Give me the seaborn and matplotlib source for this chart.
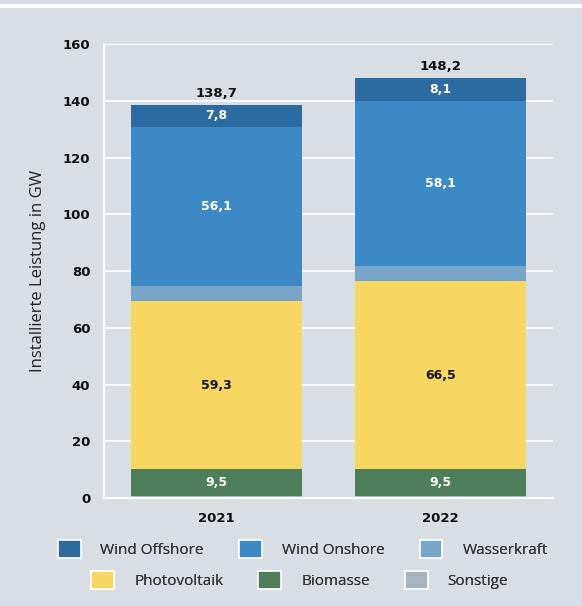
import numpy as np
import pandas as pd
import matplotlib
matplotlib.use("Agg")
import matplotlib.pyplot as plt
from matplotlib.patches import Patch, Rectangle
import seaborn as sns

# data (GW)
years = ["2021", "2022"]
sonstige = [0.6, 0.6]
biomasse = [9.5, 9.5]
photovoltaik = [59.3, 66.5]
wasserkraft = [5.4, 5.4]
wind_onshore = [56.1, 58.1]
wind_offshore = [7.8, 8.1]
totals = [138.7, 148.2]

# stacking order bottom -> top
layers = [
    ("Sonstige", sonstige, "#a9b4bd", None),
    ("Biomasse", biomasse, "#4e7e5a", "white"),
    ("Photovoltaik", photovoltaik, "#f8d662", "#111111"),
    ("Wasserkraft", wasserkraft, "#78a6c8", None),
    ("Wind Onshore", wind_onshore, "#3d89c5", "white"),
    ("Wind Offshore", wind_offshore, "#2b6ba0", "white"),
]

BG = "#d9dde4"
NUM_FONT = ["DejaVu Sans"]
sns.set_theme(style="white")
plt.rcParams["font.family"] = ["Open Sans", "DejaVu Sans"]

fig = plt.figure(figsize=(5.82, 6.06), dpi=100, facecolor=BG)
ax = fig.add_axes([0.179, 0.178, 0.771, 0.749])
ax.set_facecolor(BG)

df = pd.DataFrame({"year": years})
cum = np.zeros(len(years))
bottoms = []
for name, vals, color, _ in layers:
    bottoms.append(cum.copy())
    cum = cum + np.array(vals)
    df[name] = cum

# draw cumulative bars from the top layer down so lower ones overlay
for name, vals, color, _ in reversed(layers):
    sns.barplot(data=df, x="year", y=name, color=color, width=0.76,
                saturation=1, edgecolor="none", linewidth=0, ax=ax, zorder=3)

# segment labels
for (name, vals, color, tcolor), bot in zip(layers, bottoms):
    if tcolor is None:
        continue
    for i, v in enumerate(vals):
        ax.text(i, bot[i] + v / 2, f"{v:.1f}".replace(".", ","),
                ha="center", va="center", color=tcolor, family=NUM_FONT,
                fontsize=9, fontweight="bold", zorder=5)

for i, t in enumerate(totals):
    ax.text(i, t + 1.5, f"{t:.1f}".replace(".", ","), ha="center", va="bottom",
            color="#111111", fontsize=9.5, fontweight="bold", family=NUM_FONT,
            zorder=5)

ax.set_ylim(0, 160)
ax.set_xlim(-0.5, 1.5)
ax.set_yticks(range(0, 161, 20))
ax.yaxis.grid(True, color="white", linewidth=1.2, zorder=0)
ax.set_axisbelow(True)
for s in ["top", "right"]:
    ax.spines[s].set_visible(False)
for s in ["left", "bottom"]:
    ax.spines[s].set_color("white")
    ax.spines[s].set_linewidth(1.5)
    ax.spines[s].set_zorder(4)
ax.tick_params(axis="both", colors="white", length=6.5, width=1.5,
               labelcolor="#111111", labelsize=9.5)
for lbl in ax.get_xticklabels() + ax.get_yticklabels():
    lbl.set_fontweight("bold")
    lbl.set_family(NUM_FONT)
ax.set_xlabel("")
ax.set_ylabel("Installierte Leistung in GW", fontsize=12, color="#222222",
              labelpad=12)

# legend in two centred rows
colors = {name: color for name, _, color, _ in layers}
row1 = ["Wind Offshore", "Wind Onshore", "Wasserkraft"]
row2 = ["Photovoltaik", "Biomasse", "Sonstige"]
for row, xpos, ypos in [(row1, 0.52, 0.094), (row2, 0.515, 0.043)]:
    handles = [Patch(facecolor=colors[n], edgecolor="white", linewidth=1.2,
                     label=n) for n in row]
    leg = fig.legend(handles=handles, loc="center", ncol=3,
                     bbox_to_anchor=(xpos, ypos), frameon=False,
                     fontsize=11, handlelength=1.5, handleheight=1.5,
                     columnspacing=2.3, handletextpad=1.3)
    for t in leg.get_texts():
        t.set_color("#333333")
    fig.add_artist(leg)

# white strip along the top edge
fig.add_artist(Rectangle((0, 0.987), 1, 0.007, transform=fig.transFigure,
                         facecolor="white", edgecolor="none"))

fig.savefig("out.png", dpi=100, facecolor=BG)
